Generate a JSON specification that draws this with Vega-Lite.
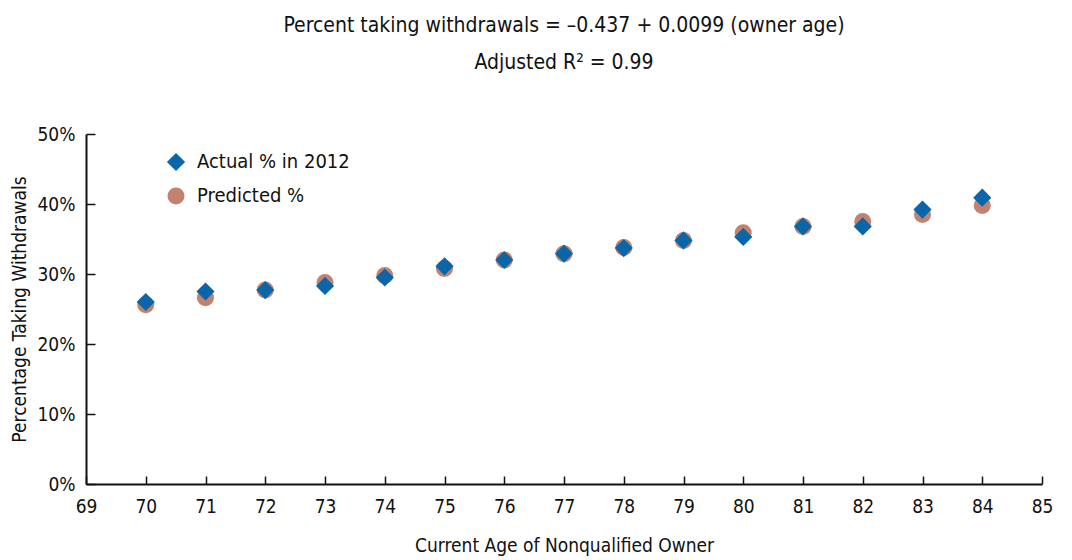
{
  "$schema": "https://vega.github.io/schema/vega-lite/v6.json",
  "autosize": "none",
  "width": 956,
  "height": 350,
  "padding": {"left": 86, "top": 134, "right": 30, "bottom": 76},
  "background": "white",
  "config": {
    "font": "DejaVu Sans Condensed",
    "view": {"stroke": null},
    "axis": {"grid": false, "domainColor": "#111", "domainWidth": 2, "tickColor": "#111", "tickWidth": 1.5, "labelFont": "DejaVu Sans Condensed", "titleFont": "DejaVu Sans Condensed", "labelFontSize": 19, "titleFontSize": 19, "labelColor": "#111", "titleColor": "#111", "titleFontWeight": "normal", "labelFlush": false}
  },
  "title": {
    "text": ["Percent taking withdrawals = \u20130.437 + 0.0099 (owner age)", "Adjusted R\u00b2 = 0.99"],
    "anchor": "middle",
    "frame": "group",
    "font": "DejaVu Sans Condensed",
    "fontSize": 21,
    "fontWeight": "normal",
    "color": "#111",
    "lineHeight": 37,
    "offset": 52
  },
  "data": {
    "values": [
      {"age": 70, "series": "Predicted %", "pct": 0.256},
      {"age": 71, "series": "Predicted %", "pct": 0.266},
      {"age": 72, "series": "Predicted %", "pct": 0.277},
      {"age": 73, "series": "Predicted %", "pct": 0.288},
      {"age": 74, "series": "Predicted %", "pct": 0.298},
      {"age": 75, "series": "Predicted %", "pct": 0.308},
      {"age": 76, "series": "Predicted %", "pct": 0.320},
      {"age": 77, "series": "Predicted %", "pct": 0.329},
      {"age": 78, "series": "Predicted %", "pct": 0.338},
      {"age": 79, "series": "Predicted %", "pct": 0.348},
      {"age": 80, "series": "Predicted %", "pct": 0.359},
      {"age": 81, "series": "Predicted %", "pct": 0.368},
      {"age": 82, "series": "Predicted %", "pct": 0.375},
      {"age": 83, "series": "Predicted %", "pct": 0.385},
      {"age": 84, "series": "Predicted %", "pct": 0.398},
      {"age": 70, "series": "Actual % in 2012", "pct": 0.260},
      {"age": 71, "series": "Actual % in 2012", "pct": 0.275},
      {"age": 72, "series": "Actual % in 2012", "pct": 0.277},
      {"age": 73, "series": "Actual % in 2012", "pct": 0.283},
      {"age": 74, "series": "Actual % in 2012", "pct": 0.295},
      {"age": 75, "series": "Actual % in 2012", "pct": 0.311},
      {"age": 76, "series": "Actual % in 2012", "pct": 0.320},
      {"age": 77, "series": "Actual % in 2012", "pct": 0.329},
      {"age": 78, "series": "Actual % in 2012", "pct": 0.337},
      {"age": 79, "series": "Actual % in 2012", "pct": 0.348},
      {"age": 80, "series": "Actual % in 2012", "pct": 0.353},
      {"age": 81, "series": "Actual % in 2012", "pct": 0.368},
      {"age": 82, "series": "Actual % in 2012", "pct": 0.368},
      {"age": 83, "series": "Actual % in 2012", "pct": 0.392},
      {"age": 84, "series": "Actual % in 2012", "pct": 0.409}
    ]
  },
  "mark": {"type": "point", "filled": true, "opacity": 1},
  "encoding": {
    "x": {
      "field": "age", "type": "quantitative",
      "scale": {"domain": [69, 85], "nice": false, "zero": false},
      "axis": {"values": [69,70,71,72,73,74,75,76,77,78,79,80,81,82,83,84,85], "format": "d", "tickSize": -8, "labelPadding": 21, "title": "Current Age of Nonqualified Owner", "titlePadding": 20}
    },
    "y": {
      "field": "pct", "type": "quantitative",
      "scale": {"domain": [0, 0.5], "nice": false},
      "axis": {"values": [0, 0.1, 0.2, 0.3, 0.4, 0.5], "format": ".0%", "tickSize": -9, "labelPadding": 20, "title": "Percentage Taking Withdrawals", "titlePadding": 8}
    },
    "color": {
      "field": "series", "type": "nominal",
      "scale": {"domain": ["Actual % in 2012", "Predicted %"], "range": ["#0a66a8", "#c1836f"]},
      "legend": {"title": null, "orient": "none", "legendX": 80, "legendY": 18, "padding": 0, "labelFontSize": 20, "labelFont": "DejaVu Sans Condensed", "labelColor": "#111", "labelOffset": 11, "rowPadding": 9, "symbolOpacity": 1}
    },
    "shape": {
      "field": "series", "type": "nominal",
      "scale": {"domain": ["Actual % in 2012", "Predicted %"], "range": ["diamond", "circle"]}
    },
    "size": {
      "field": "series", "type": "nominal",
      "scale": {"domain": ["Actual % in 2012", "Predicted %"], "range": [330, 290]}
    }
  }
}
